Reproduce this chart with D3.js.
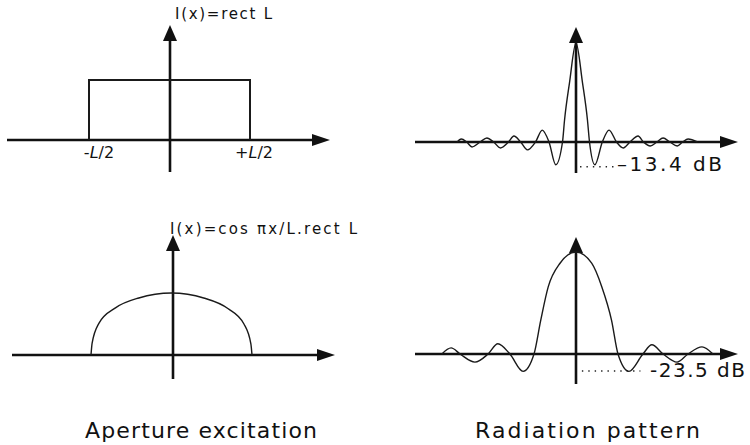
<!DOCTYPE html>
<html lang="en">
<head>
<meta charset="UTF-8">
<title>Aperture excitation and radiation pattern</title>
<script src="https://d3js.org/d3.v7.min.js"></script>
<style>
    body { margin: 0; background: #fff; overflow: hidden; }
    svg { display: block; }
    .axis { stroke: #111; stroke-width: 2.6px; fill: none; }
    .arrow { fill: #111; stroke: none; }
    .curve { stroke: #1a1a1a; stroke-width: 1.4px; fill: none; }
    .rect { stroke: #1a1a1a; stroke-width: 2px; fill: none; }
    .dots { stroke: #222; stroke-width: 1.4px; stroke-dasharray: 1.4,5; }
    text { font-family: "DejaVu Sans", sans-serif; fill: #111; }
</style>
</head>
<body>
<script>
// aperture excitation I(x), x in units of L, amplitude normalised
const rectExcitation = [[-0.5, 0], [-0.5, 1], [0.5, 1], [0.5, 0]];
const cosExcitation = [
    [-0.5, 0], [-0.493, 0.19], [-0.451, 0.51], [-0.348, 0.76], [-0.203, 0.92], [0, 1],
    [0.2, 0.92], [0.35, 0.75], [0.45, 0.5], [0.493, 0.18], [0.5, 0]
];

// radiation patterns (u = angle in null spacings, v = field)
const uniformPattern = [
    [-8.8, 0], [-8.5, 0.03], [-8.1, 0], [-7.7, -0.05], [-7.1, 0], [-6.6, 0.04], [-6.1, 0],
    [-5.6, -0.06], [-5.0, 0], [-4.6, 0.06], [-4.1, 0], [-3.6, -0.08], [-3.0, 0], [-2.5, 0.12],
    [-2.0, 0], [-1.5, -0.23], [-1.0, 0], [-0.85, 0.22], [-0.48, 0.6], [0, 1],
    [0.48, 0.6], [0.85, 0.22], [1.0, 0], [1.4, -0.23], [1.95, 0], [2.45, 0.12], [3.0, 0],
    [3.5, -0.06], [4.0, 0], [4.6, 0.06], [5.0, 0], [5.5, -0.04], [6.0, 0], [6.45, 0.04],
    [6.95, 0], [7.5, -0.04], [7.9, 0], [8.3, 0.03], [9.0, 0]
];
const cosPattern = [
    [-4.79, 0], [-4.46, 0.06], [-4.14, 0], [-3.61, -0.08], [-3.14, 0], [-2.79, 0.1],
    [-2.36, 0], [-1.89, -0.17], [-1.5, 0], [-1.26, 0.33], [-0.99, 0.66], [-0.57, 0.89], [0, 1],
    [0.56, 0.89], [0.92, 0.66], [1.27, 0.33], [1.5, 0], [1.89, -0.17], [2.39, 0], [2.71, 0.09],
    [3.11, 0], [3.61, -0.08], [4.0, 0], [4.5, 0.07], [4.89, 0]
];

// first sidelobe levels, dotted marker extents and labels
const sidelobeLevels = [-0.25, -0.167];
const markerEnds = [[0.3, 3.05], [0.21, 2.3]];
const sidelobeLabels = ["\u201313.4 dB", "-23.5 dB"];
const excitationTitles = ["I(x)=rect L", "I(x)=cos \u03c0x/L.rect L"];
const columnTitles = ["Aperture excitation", "Radiation pattern"];

const width = 750, height = 445;
const svg = d3.select("body").append("svg")
    .attr("width", width)
    .attr("height", height);

// panel frames: origin, axis extents (pixels) and data range -> pixel range
const panels = [
    { ox: 170, oy: 140, left: 7, right: 330, top: 25, bottom: 172,
      xd: [-0.5, 0.5], xr: [89, 250], yr: [140, 80] },
    { ox: 576, oy: 142, left: 415, right: 738, top: 27, bottom: 173,
      xd: [-1, 1], xr: [562.5, 589.5], yr: [142, 43] },
    { ox: 173, oy: 355, left: 12, right: 335, top: 235, bottom: 379,
      xd: [-0.5, 0.5], xr: [91, 252], yr: [355, 293] },
    { ox: 576, oy: 354, left: 415, right: 738, top: 237, bottom: 384,
      xd: [-1, 1], xr: [548, 604], yr: [354, 252] }
];

panels.forEach(p => {
    p.x = d3.scaleLinear().domain(p.xd).range(p.xr);
    p.y = d3.scaleLinear().domain([0, 1]).range(p.yr);
});

// axes with arrow heads
panels.forEach(p => {
    const g = svg.append("g");
    g.append("line").attr("class", "axis")
        .attr("x1", p.left).attr("y1", p.oy).attr("x2", p.right - 10).attr("y2", p.oy);
    g.append("line").attr("class", "axis")
        .attr("x1", p.ox).attr("y1", p.bottom).attr("x2", p.ox).attr("y2", p.top + 10);
    g.append("path").attr("class", "arrow")
        .attr("d", `M${p.right},${p.oy} L${p.right - 18},${p.oy - 6} L${p.right - 18},${p.oy + 6} Z`);
    g.append("path").attr("class", "arrow")
        .attr("d", `M${p.ox},${p.top} L${p.ox - 7},${p.top + 16} L${p.ox + 7},${p.top + 16} Z`);
});

const lineOf = (p, curve) => d3.line()
    .x(d => p.x(d[0]))
    .y(d => p.y(d[1]))
    .curve(curve);

svg.append("path").attr("class", "rect")
    .attr("d", lineOf(panels[0], d3.curveLinear)(rectExcitation));
svg.append("path").attr("class", "curve")
    .attr("d", lineOf(panels[2], d3.curveMonotoneX)(cosExcitation));
svg.append("path").attr("class", "curve")
    .attr("d", lineOf(panels[1], d3.curveMonotoneX)(uniformPattern));
svg.append("path").attr("class", "curve")
    .attr("d", lineOf(panels[3], d3.curveMonotoneX)(cosPattern));

// sidelobe level markers
[panels[1], panels[3]].forEach((p, i) => {
    const yv = p.y(sidelobeLevels[i]);
    svg.append("line").attr("class", "dots")
        .attr("x1", p.x(markerEnds[i][0])).attr("x2", p.x(markerEnds[i][1]))
        .attr("y1", yv).attr("y2", yv);
});
svg.append("text").attr("x", 617).attr("y", 171)
    .attr("font-size", 20).attr("textLength", 105)
    .text(sidelobeLabels[0]);
svg.append("text").attr("x", 650).attr("y", 377)
    .attr("font-size", 20).attr("textLength", 95)
    .text(sidelobeLabels[1]);

// excitation formulas
svg.append("text").attr("x", 175).attr("y", 19)
    .attr("font-size", 15).attr("textLength", 97)
    .text(excitationTitles[0]);
svg.append("text").attr("x", 170).attr("y", 234)
    .attr("font-size", 15).attr("textLength", 187)
    .text(excitationTitles[1]);

// aperture edges
const edgeLabels = ["-", "+"];
[-0.5, 0.5].forEach((v, i) => {
    const t = svg.append("text")
        .attr("x", panels[0].x(v) + (i ? 4 : 10))
        .attr("y", 158)
        .attr("font-size", 16)
        .attr("text-anchor", "middle");
    t.append("tspan").text(edgeLabels[i]);
    t.append("tspan").attr("font-style", "italic").text("L");
    t.append("tspan").text("/2");
});

// column captions
svg.append("text").attr("x", 85).attr("y", 438)
    .attr("font-size", 22).attr("textLength", 232)
    .text(columnTitles[0]);
svg.append("text").attr("x", 475).attr("y", 438)
    .attr("font-size", 22).attr("textLength", 225)
    .text(columnTitles[1]);
</script>
</body>
</html>
